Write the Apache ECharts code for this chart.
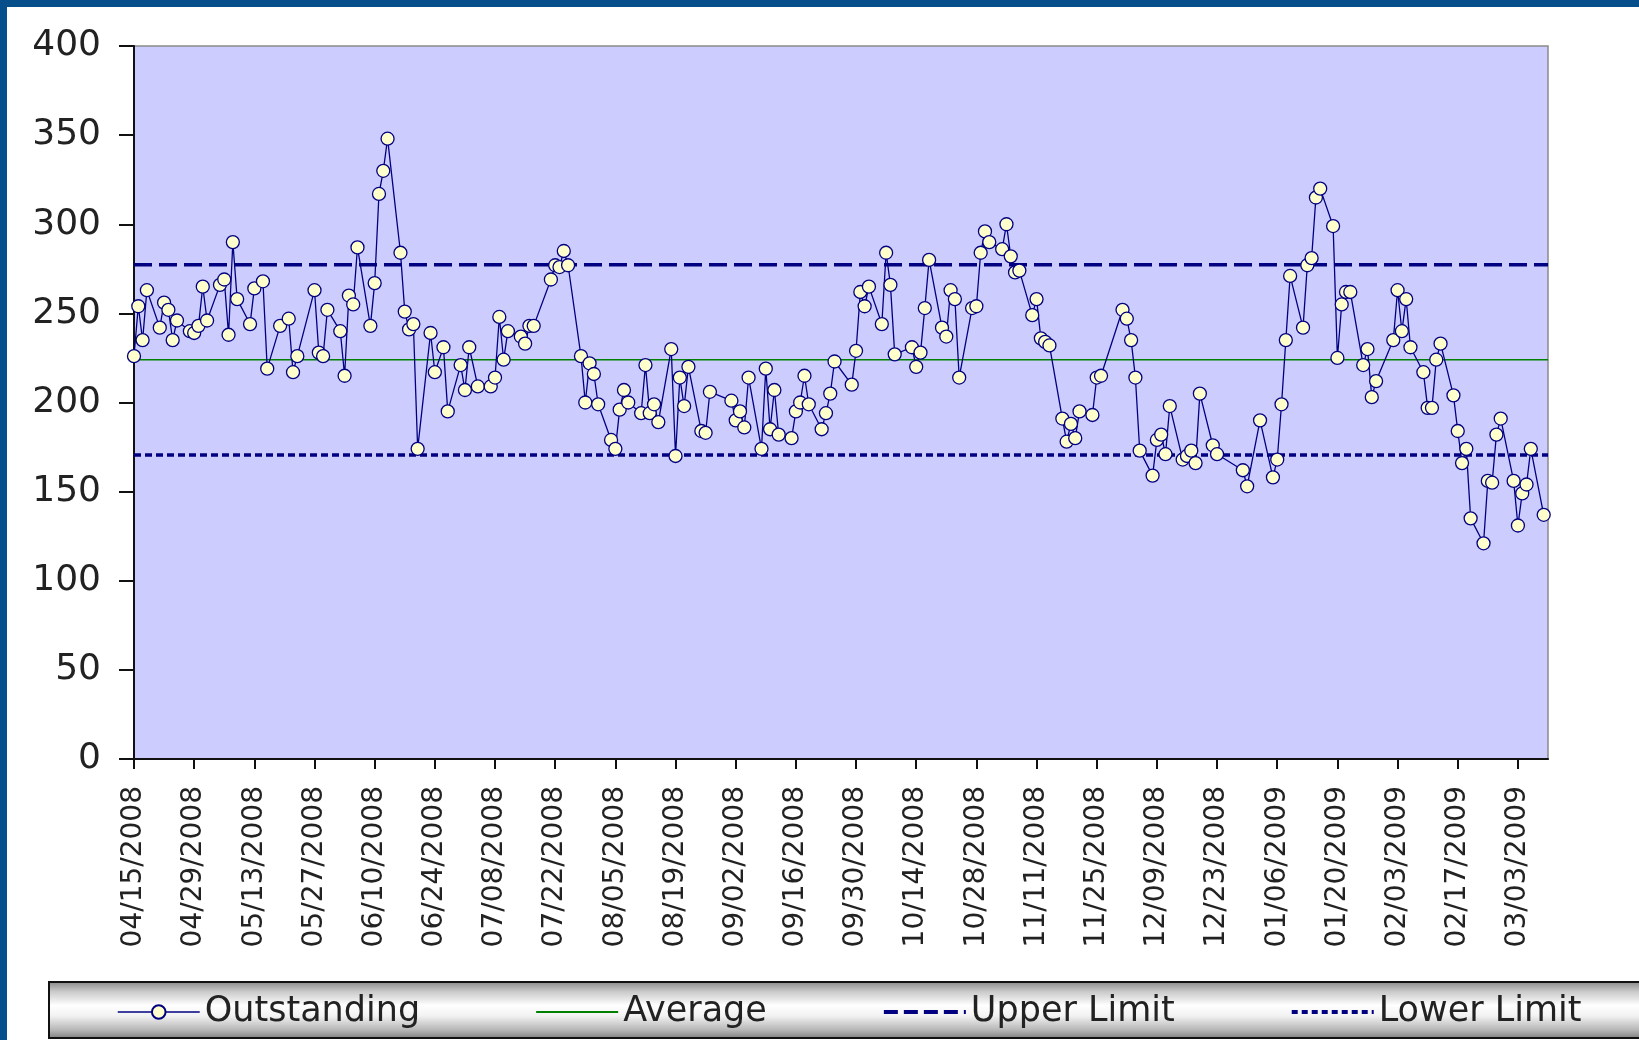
<!DOCTYPE html>
<html>
<head>
<meta charset="utf-8">
<script src="https://cdn.jsdelivr.net/npm/echarts@6/dist/echarts.min.js"></script>
<style>
html,body{margin:0;padding:0;background:#ffffff;}
#chart{width:1639px;height:1040px;}
</style>
</head>
<body>
<div id="chart"></div>
<script>
// ---- data ----
const startDate = '04/15/2008';      // day 0 of the series
const axisEndDate = '03/10/2009';    // right end of the date axis

// days since startDate of each observation (business days)
const dayOffsets = [
  0,1,2,3, 6,7,8,9,10, 13,14,15,16,17, 20,21,22,23,24, 27,28,30,31,
  34,36,37,38, 42,43,44,45, 48,49,50,51,52, 55,56,57,58,59, 62,63,64,65,66,
  69,70,72,73, 76,77,78,80, 83,84,85,86,87, 90,91,92,93, 97,98,99,100,101,
  104,105,106,107,108, 111,112,113,114,115, 118,119,120,121,122, 125,126,127,128,129,
  132,133,134, 139,140,141,142,143, 146,147,148,149,150, 153,154,155,156,157,
  160,161,162,163, 167,168,169,170,171, 174,175,176,177, 181,182,183,184,185,
  188,189,190,191,192, 195,196,197,198,199, 202,203,204,205,206, 209,210,211,212,213,
  216,217,218,219,220, 223,224,225, 230,231,232,233,234, 237,238,239,240,241,
  244,245,246,247,248, 251,252, 258,259, 262, 265,266,267,268,269, 272,273,274,275,276,
  279,280,281,282,283, 286,287,288,289, 293,294,295,296,297, 300,301,302,303,304,
  307,308,309,310,311, 314,315,316,317,318, 321,322,323,324,325, 328
];

const outstanding = [
  226,254,235,263, 242,256,252,235,246, 240,239,243,265,246, 266,269,238,290,258, 244,264,268,219,
  243,247,217,226, 263,228,226,252, 240,215,260,255,287, 243,267,317,330,348, 284,251,241,244,174,
  239,217,231,195, 221,207,231,209, 209,214,248,224,240, 237,233,243,243, 269,277,276,285,277,
  226,200,222,216,199, 179,174,196,207,200, 194,221,194,199,189, 230,170,214,198,220,
  184,183,206, 201,190,195,186,214, 174,219,185,207,182, 180,195,200,215,199,
  185,194,205,223, 210,229,262,254,265, 244,284,266,227, 231,220,228,253,280,
  242,237,263,258,214, 253,254,284,296,290, 286,300,282,273,274, 249,258,236,234,232,
  191,178,188,180,195, 193,214,215, 252,247,235,214,173, 159,179,182,171,198,
  168,170,173,166,205, 176,171, 162,153, 190, 158,168,199,235,271, 242,277,281,315,320,
  299,225,255,262,262, 221,230,203,212, 235,263,240,258,231, 217,197,197,224,233,
  204,184,166,174,135, 121,156,155,182,191, 156,131,149,154,174, 137
];

const averageValue = 224;
const upperLimit = 277.3;
const lowerLimit = 170.5;

const tickLabels = [
  '04/15/2008','04/29/2008','05/13/2008','05/27/2008','06/10/2008','06/24/2008',
  '07/08/2008','07/22/2008','08/05/2008','08/19/2008','09/02/2008','09/16/2008',
  '09/30/2008','10/14/2008','10/28/2008','11/11/2008','11/25/2008','12/09/2008',
  '12/23/2008','01/06/2009','01/20/2009','02/03/2009','02/17/2009','03/03/2009'
];

const seriesNames = ['Outstanding', 'Average', 'Upper Limit', 'Lower Limit'];

// ---- helpers ----
function parseMDY(s) {
  const p = s.split('/');
  return Date.UTC(+p[2], +p[0] - 1, +p[1]);
}
const DAY = 86400000;
const t0 = parseMDY(startDate);
function dayOf(s) { return Math.round((parseMDY(s) - t0) / DAY); }

const tickDays = tickLabels.map(dayOf);
const axisMax = dayOf(axisEndDate);

const outData = dayOffsets.map((d, i) => [d, outstanding[i]]);
const flat = v => [[0, v], [axisMax, v]];

const FONT = 'DejaVu Sans';
const NAVY = '#000080';
const UPPER_DASH = [18, 7];
const LOWER_DASH = [7, 4];

const chart = echarts.init(document.getElementById('chart'), null, {renderer: 'canvas'});
chart.setOption({
  animation: false,
  backgroundColor: '#ffffff',
  textStyle: {fontFamily: FONT},
  graphic: {
    elements: [
      {type: 'rect', left: 0, top: 0, shape: {x: 0, y: 0, width: 1639, height: 7}, style: {fill: '#064f8b'}, z: 0},
      {type: 'rect', left: 0, top: 0, shape: {x: 0, y: 0, width: 7, height: 1040}, style: {fill: '#064f8b'}, z: 0},
      {
        type: 'rect', position: [49, 982],
        shape: {x: 0, y: 0, width: 1620, height: 56},
        style: {
          fill: new echarts.graphic.LinearGradient(0, 0, 0, 1, [
            {offset: 0, color: '#858585'},
            {offset: 0.18, color: '#c9c9c9'},
            {offset: 0.42, color: '#ffffff'},
            {offset: 0.6, color: '#f2f2f2'},
            {offset: 0.85, color: '#b5b5b5'},
            {offset: 1, color: '#7c7c7c'}
          ]),
          stroke: '#111111', lineWidth: 2
        },
        z: 0
      }
    ]
  },
  grid: {
    left: 134, right: 91, top: 46, bottom: 281,
    show: true, backgroundColor: '#CCCCFF', borderColor: '#8a8a8a', borderWidth: 1.5
  },
  legend: {
    data: [
      {name: seriesNames[0], lineStyle: {width: 1.5}},
      {name: seriesNames[1], itemStyle: {opacity: 0}, lineStyle: {width: 2}},
      {name: seriesNames[2], itemStyle: {opacity: 0}, lineStyle: {width: 4, type: [14, 6]}},
      {name: seriesNames[3], itemStyle: {opacity: 0}, lineStyle: {width: 4, type: [6, 4]}}
    ],
    left: 117, top: 992, padding: 0,
    itemWidth: 82, itemHeight: 17, itemGap: 115,
    textStyle: {fontFamily: FONT, fontSize: 35, color: '#222', lineHeight: 40},
    selectedMode: false
  },
  xAxis: {
    type: 'value',
    min: 0, max: axisMax, interval: 14,
    axisLine: {show: true, onZero: false, lineStyle: {color: '#111', width: 2}},
    axisTick: {show: true, length: 10, lineStyle: {color: '#111', width: 2}, customValues: tickDays},
    axisLabel: {
      customValues: tickDays,
      rotate: 90, margin: 27,
      fontFamily: FONT, fontSize: 28, color: '#222',
      formatter: v => { const i = tickDays.indexOf(Math.round(v)); return i >= 0 ? tickLabels[i] : ''; }
    },
    splitLine: {show: false}
  },
  yAxis: {
    type: 'value', min: 0, max: 400, interval: 50,
    axisLine: {show: true, lineStyle: {color: '#111', width: 2}},
    axisTick: {show: true, length: 15, lineStyle: {color: '#111', width: 2}},
    axisLabel: {margin: 33, fontFamily: FONT, fontSize: 36, color: '#222'},
    splitLine: {show: false}
  },
  series: [
    {
      name: 'Average', type: 'line', data: flat(averageValue), symbol: 'none', silent: true, z: 2,
      lineStyle: {color: '#008000', width: 1.5}, itemStyle: {color: '#008000'}
    },
    {
      name: 'Upper Limit', type: 'line', data: flat(upperLimit), symbol: 'none', silent: true, z: 2,
      lineStyle: {color: NAVY, width: 3.5, type: UPPER_DASH}, itemStyle: {color: NAVY}
    },
    {
      name: 'Lower Limit', type: 'line', data: flat(lowerLimit), symbol: 'none', silent: true, z: 2,
      lineStyle: {color: NAVY, width: 3.5, type: LOWER_DASH}, itemStyle: {color: NAVY}
    },
    {
      name: 'Outstanding', type: 'line', data: outData, z: 3,
      symbol: 'circle', symbolSize: 13, showAllSymbol: true,
      lineStyle: {color: NAVY, width: 1.3},
      itemStyle: {color: '#FFFFCC', borderColor: NAVY, borderWidth: 1.3}
    }
  ]
});
</script>
</body>
</html>
